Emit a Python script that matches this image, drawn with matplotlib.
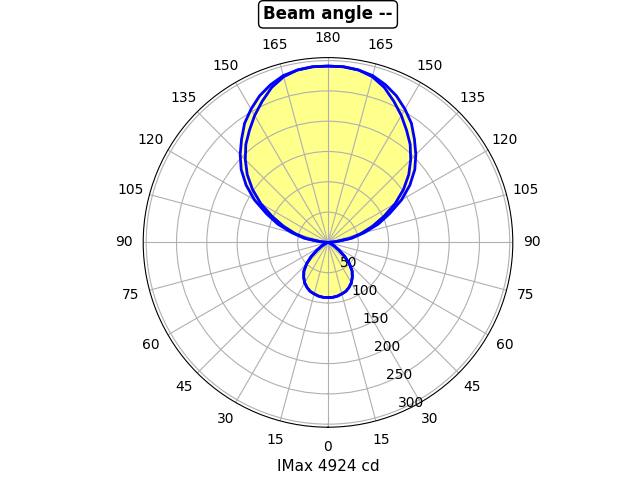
"""
配光曲線 (polar intensity diagram)：兩個 C 平面，0 度在下方。
"""

import matplotlib
matplotlib.use("Agg")
import matplotlib.pyplot as plt
import numpy as np

# 角度 (度)，0 = 正下方，180 = 正上方
gamma = [0, 5, 10, 15, 20, 25, 30, 35, 40, 45, 50, 55, 60, 65, 70, 75, 80, 85, 90,
         95, 100, 105, 110, 115, 120, 125, 130, 135, 140, 145, 150, 155, 160, 165,
         170, 175, 180]

# C0-C180 平面 (外側曲線)
plane_a = [91, 91, 90, 88, 86, 82, 77, 70, 62, 50, 36, 22, 12, 5, 2, 1, 0, 0, 0,
           14, 40, 62, 88, 112, 140, 165, 187, 205, 222, 240, 254, 267, 277, 285,
           289, 291, 291]

# C90-C270 平面 (內側曲線)
plane_b = [91, 91, 90, 88, 86, 82, 77, 70, 62, 50, 36, 22, 12, 5, 2, 1, 0, 0, 0,
           12, 36, 56, 78, 102, 128, 152, 174, 193, 211, 226, 242, 257, 272, 283,
           289, 291, 291]

r_ticks = [50, 100, 150, 200, 250, 300]
theta_ticks = list(range(0, 360, 15))
theta_labels = [str(a if a <= 180 else 360 - a) for a in theta_ticks]

title = "Beam angle --"
imax_label = "IMax 4924 cd"


def full_curve(vals):
    # 右半邊用 gamma，左半邊鏡射成 360 - gamma
    g = np.array(gamma, dtype=float)
    v = np.array(vals, dtype=float)
    ang = np.concatenate([g, 360 - g[::-1]])
    rr = np.concatenate([v, v[::-1]])
    return np.deg2rad(ang), rr


fig = plt.figure(figsize=(6.4, 4.8), dpi=100)
ax = fig.add_subplot(111, projection="polar")
ax.set_theta_zero_location("S")
ax.set_theta_direction(1)

th_a, r_a = full_curve(plane_a)
th_b, r_b = full_curve(plane_b)

ax.fill(th_a, r_a, color="yellow", alpha=0.45, lw=0)
ax.plot(th_a, r_a, color="blue", lw=2)
ax.plot(th_b, r_b, color="blue", lw=2)

ax.set_ylim(0, 305)
ax.set_yticks(r_ticks)
ax.set_xticks(np.deg2rad(theta_ticks))
ax.set_xticklabels(theta_labels)
ax.grid(True)

ax.set_title(title, fontsize=12, fontweight="bold", pad=8.5,
             bbox=dict(boxstyle="round,pad=0.28", fc="white", ec="black"))
ax.set_xlabel(imax_label, fontsize=11)

fig.savefig("out.png", dpi=100)
